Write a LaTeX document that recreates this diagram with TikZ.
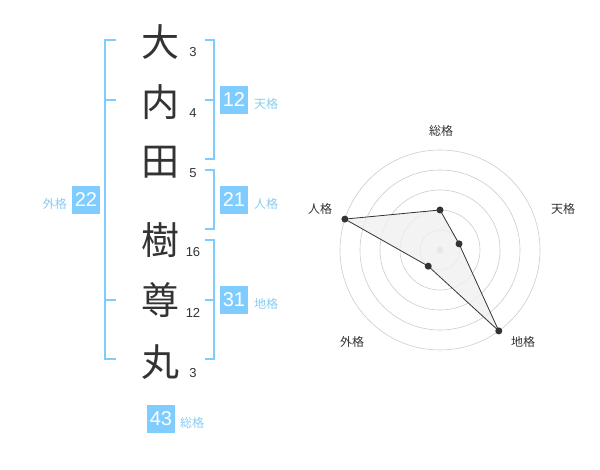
\documentclass[tikz,border=0pt]{standalone}
\usepackage{fontspec}
\setmainfont{Liberation Sans}
\newfontfamily\jp{Noto Sans CJK JP}
\definecolor{kakublue}{HTML}{7FCCFF}
\definecolor{kakutext}{HTML}{88CCF2}
\definecolor{inkgray}{HTML}{333333}
\definecolor{ringgray}{HTML}{CCCCCC}
\definecolor{areagray}{HTML}{F0F0F0}

\begin{document}
\begin{tikzpicture}[x=1pt, y=-1pt,
    kanji/.style={text=inkgray, inner sep=0,
                  font=\jp\fontsize{38}{38}\selectfont},
    strokes/.style={text=inkgray, inner sep=0,
                    font=\fontsize{13}{13}\selectfont},
    kakubox/.style={fill=kakublue, text=white, inner sep=0,
                    minimum size=28pt, font=\fontsize{20}{20}\selectfont},
    kakuname/.style={text=kakutext, inner sep=0, anchor=west,
                     font=\jp\fontsize{12}{12}\selectfont},
    bracket/.style={draw=kakublue, line width=2pt},
    axisname/.style={text=inkgray, inner sep=0,
                     font=\jp\fontsize{12}{12}\selectfont},
    ring/.style={draw=ringgray, line width=0.6pt},
    dot/.style={circle, fill=inkgray, inner sep=0, minimum size=7pt}]
    \useasboundingbox (0,0) rectangle (600,470);

    % Name

    \node (dai)  [kanji] at (160,42)  {大};
    \node (uchi) [kanji] at (160,102) {内};
    \node (ta)   [kanji] at (160,162) {田};
    \node (ju)   [kanji] at (160,240) {樹};
    \node (son)  [kanji] at (160,300) {尊};
    \node (maru) [kanji] at (160,362) {丸};

    \node (kdai)  [strokes] at (193,52)  {3};
    \node (kuchi) [strokes] at (193,113) {4};
    \node (kta)   [strokes] at (193,173) {5};
    \node (kju)   [strokes] at (193,252) {16};
    \node (kson)  [strokes] at (193,313) {12};
    \node (kmaru) [strokes] at (193,373) {3};

    % Brackets

    \draw[bracket] (116,40) -- (105,40) -- (105,359) -- (116,359);
    \draw[bracket] (105,100) -- (116,100);
    \draw[bracket] (105,300) -- (116,300);
    \draw[bracket] (205,40) -- (214,40) -- (214,159) -- (205,159);
    \draw[bracket] (214,100) -- (205,100);
    \draw[bracket] (205,170) -- (214,170) -- (214,229) -- (205,229);
    \draw[bracket] (205,240) -- (214,240) -- (214,359) -- (205,359);
    \draw[bracket] (214,300) -- (205,300);

    % Scores

    \node (gaibox) [kakubox] at (86,200)  {22};
    \node (gainame) [kakuname, anchor=east] at (67,204) {外格};
    \node (tenbox) [kakubox] at (234,100) {12};
    \node (tenname) [kakuname] at (254,104) {天格};
    \node (jinbox) [kakubox] at (234,200) {21};
    \node (jinname) [kakuname] at (254,204) {人格};
    \node (chibox) [kakubox] at (234,300) {31};
    \node (chiname) [kakuname] at (254,304) {地格};
    \node (soubox) [kakubox] at (161,419) {43};
    \node (souname) [kakuname] at (180,423) {総格};

    % Radar chart

    \coordinate (rc) at (440,250);
    \foreach \r in {20,40,60,80,100}
        \draw[ring] (rc) circle[radius=\r pt];
    \node [circle, fill=ringgray, inner sep=0, minimum size=7pt] at (rc) {};

    \coordinate (psou) at ([shift={(90:40pt)}]rc);
    \coordinate (pten) at ([shift={(18:20pt)}]rc);
    \coordinate (pchi) at ([shift={(-54:100pt)}]rc);
    \coordinate (pgai) at ([shift={(234:20pt)}]rc);
    \coordinate (pjin) at ([shift={(162:100pt)}]rc);
    \draw[fill=areagray, fill opacity=0.8, draw=inkgray, line width=0.8pt]
        (psou) -- (pten) -- (pchi) -- (pgai) -- (pjin) -- cycle;
    \foreach \p in {psou,pten,pchi,pgai,pjin}
        \node [dot] at (\p) {};

    \node (asou) [axisname] at (441,131) {総格};
    \node (aten) [axisname] at (563,209) {天格};
    \node (achi) [axisname] at (523,342) {地格};
    \node (agai) [axisname] at (352,342) {外格};
    \node (ajin) [axisname] at (320,209) {人格};
\end{tikzpicture}
\end{document}
